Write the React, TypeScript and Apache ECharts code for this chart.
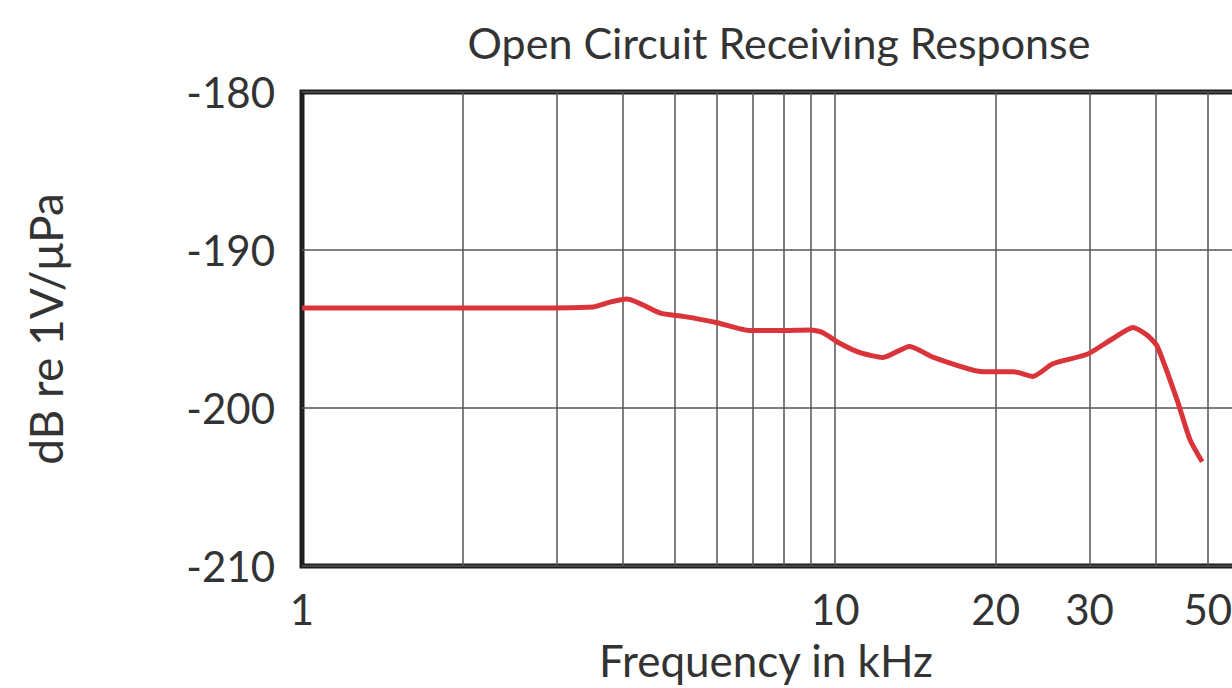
import React, { useEffect, useRef } from "react";
import * as echarts from "echarts";

const frequencyKHz = [1, 1.53, 2.35, 3.52, 3.78, 4.07, 4.7, 5.19, 6.01, 6.93, 7.89, 8.98, 9.45, 10.2, 11.14, 12.3, 13.8, 15.3, 18.95, 21.6, 23.5, 25.6, 29.7, 33.2, 36.2, 38.5, 40.2, 43.8, 46.3, 48.8];
const responseDb = [-193.67, -193.67, -193.67, -193.6, -193.3, -193.1, -194.0, -194.2, -194.6, -195.1, -195.1, -195.06, -195.2, -195.9, -196.5, -196.8, -196.1, -196.8, -197.7, -197.7, -198.0, -197.2, -196.6, -195.6, -194.9, -195.4, -196.1, -199.5, -202.0, -203.4];
const gridFrequencies = [2, 3, 4, 5, 6, 7, 8, 9, 10, 20, 30, 40, 50];
const xTickLabels = [1, 10, 20, 30, 50];
const yMin = -210;
const yMax = -180;
const yStep = 10;

const FONT = "Lato";
const TEXT = "#333333";

export default function App() {
  const ref = useRef<HTMLDivElement>(null);
  useEffect(() => {
    document.body.style.margin = "0";
    const chart = echarts.init(ref.current!, null, { renderer: "svg" });
    const points = frequencyKHz.map((f, i) => [f, responseDb[i]]);
    chart.setOption({
      animation: false,
      backgroundColor: "#ffffff",
      title: {
        text: "Open Circuit Receiving Response",
        left: 774,
        top: 16,
        textAlign: "center",
        textStyle: { fontFamily: FONT, fontSize: 43, fontWeight: "normal", color: TEXT },
      },
      grid: {
        left: 302,
        top: 92,
        width: 948,
        height: 474,
        show: true,
        borderWidth: 5,
        borderColor: "#1e1e1e",
        backgroundColor: "transparent",
        containLabel: false,
        outerBoundsMode: "none",
      },
      xAxis: {
        type: "log",
        min: 1,
        max: 60,
        logBase: 10,
        name: "Frequency in kHz",
        nameLocation: "middle",
        nameGap: 72,
        nameTextStyle: { fontFamily: FONT, fontSize: 44, color: TEXT, padding: [0, 20, 0, 0] },
        axisLine: { show: false },
        axisTick: { show: false },
        splitLine: { show: false },
        axisLabel: {
          customValues: xTickLabels,
          margin: 22,
          fontFamily: FONT,
          fontSize: 42,
          color: TEXT,
          formatter: (v: number) => String(Math.round(v)),
        },
      },
      yAxis: {
        type: "value",
        min: yMin,
        max: yMax,
        interval: yStep,
        name: "dB re 1V/μPa",
        nameLocation: "middle",
        nameGap: 234,
        nameRotate: 90,
        nameTextStyle: { fontFamily: FONT, fontSize: 46, color: TEXT },
        axisLine: { show: false },
        axisTick: { show: false },
        splitLine: { show: true, lineStyle: { color: "#555555", width: 1.5 } },
        axisLabel: { margin: 27, fontFamily: FONT, fontSize: 42, color: TEXT },
      },
      series: [
        {
          type: "line",
          data: points,
          smooth: 0.2,
          symbol: "none",
          lineStyle: { color: "#d9343a", width: 5 },
          z: 5,
          markLine: {
            silent: true,
            symbol: "none",
            label: { show: false },
            lineStyle: { color: "#555555", width: 1.5, type: "solid" },
            data: gridFrequencies.map((f) => ({ xAxis: f })),
            z: 1,
          },
        },
      ],
    });
    return () => chart.dispose();
  }, []);
  return <div ref={ref} style={{ position: "fixed", left: 0, top: 0, width: 1232, height: 688 }} />;
}
